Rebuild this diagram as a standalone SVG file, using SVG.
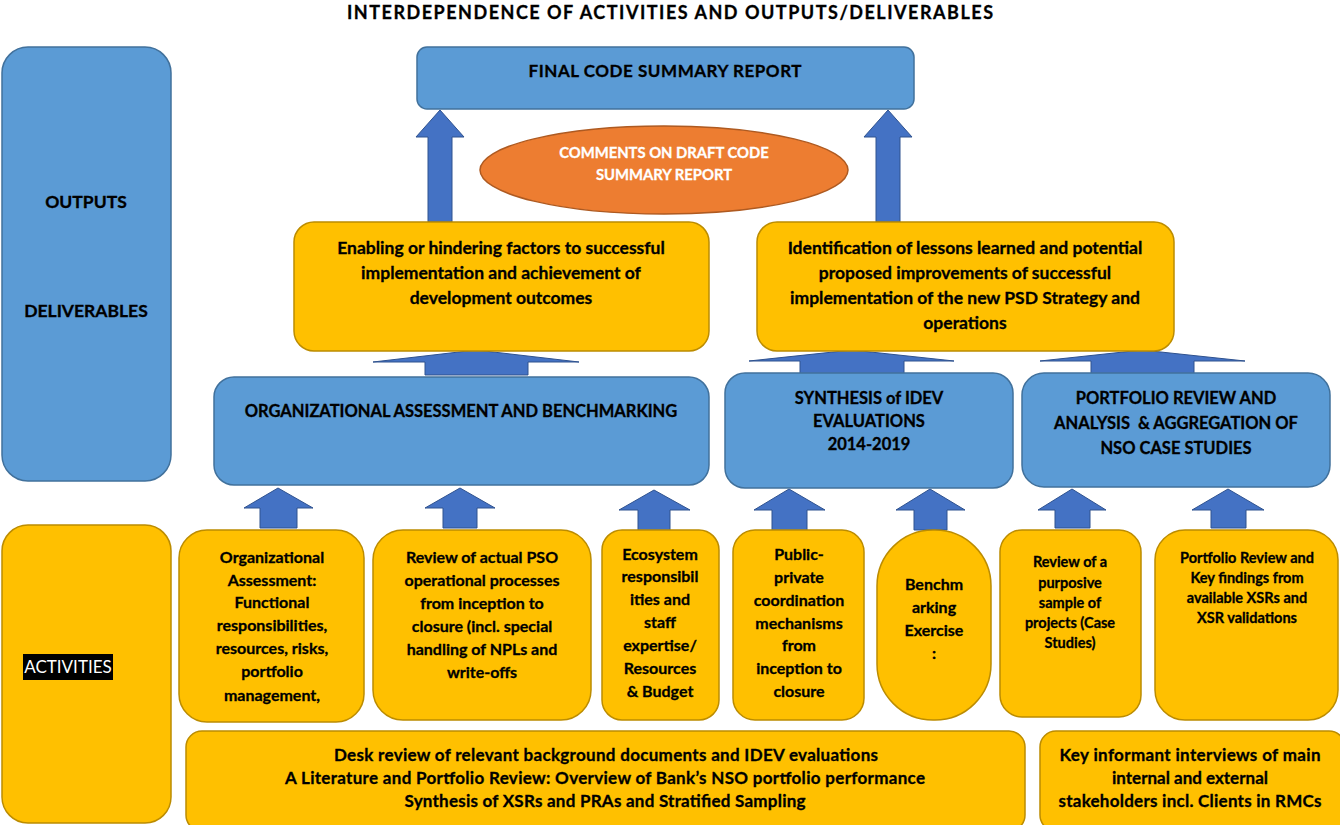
<svg xmlns="http://www.w3.org/2000/svg" width="1340" height="825" viewBox="0 0 1340 825">
  <style>
    text { font-family: "Lato", "Open Sans", "Liberation Sans", sans-serif; font-weight: bold; fill: #000; stroke: #000; stroke-width: 0.3; text-anchor: middle; }
    text.light { fill: #fff; stroke: #fff; }
    .blue { fill: #5B9BD5; stroke: #41719C; stroke-width: 1.5; }
    .yellow { fill: #FFC000; stroke: #BC8C00; stroke-width: 1.5; }
    .orange { fill: #ED7D31; stroke: #AE5A21; stroke-width: 1.5; }
    .arrow { fill: #4472C4; stroke: #2F528F; stroke-width: 1; }
    .hd { font-size: 16.5px; }
    .dl { font-size: 17.5px; }
    .ac { font-size: 16px; }
    .sm { font-size: 14.5px; }
    .bt { font-size: 17px; }
  </style>

  <rect width="1340" height="825" fill="#fff"/>

  <text x="670" y="19" font-size="18" textLength="646" lengthAdjust="spacing">INTERDEPENDENCE OF ACTIVITIES AND OUTPUTS/DELIVERABLES</text>

  <!-- side labels -->
  <g id="outputs-column">
    <rect class="blue" x="2" y="47" width="169" height="434" rx="26"/>
    <text x="86" y="208" font-size="17.5">OUTPUTS</text>
    <text x="86" y="317" font-size="17.5">DELIVERABLES</text>
  </g>
  <g id="activities-column">
    <rect class="yellow" x="2" y="525" width="169" height="298" rx="26"/>
    <rect x="23" y="654" width="90" height="26" fill="#000"/>
    <text class="light" x="68" y="673" font-size="17" style="font-weight:normal;stroke-width:0">ACTIVITIES</text>
  </g>

  <!-- connectors: block arrows pointing upward -->
  <g id="connectors">
    <polygon class="arrow" points="440,110 464,137 452,137 452,222 428,222 428,137 416,137"/>
    <polygon class="arrow" points="888,110 912,137 900,137 900,222 876,222 876,137 864,137"/>
    <polygon class="arrow" points="476,350 579,362 528,362 528,375 425,375 425,362 373,362"/>
    <polygon class="arrow" points="852,350 954,361 904,361 904,374 800,374 800,361 749,361"/>
    <polygon class="arrow" points="1142,350 1245,361 1194,361 1194,374 1091,374 1091,361 1040,361"/>
    <polygon class="arrow" points="278,488 313,508 297,508 297,528 260,528 260,508 244,508"/>
    <polygon class="arrow" points="460,488 495,508 477,508 477,528 443,528 443,508 425,508"/>
    <polygon class="arrow" points="654,490 690,510 670,510 670,531 638,531 638,510 619,510"/>
    <polygon class="arrow" points="789,489 825,510 807,510 807,531 772,531 772,510 754,510"/>
    <polygon class="arrow" points="930,489 965,510 947,510 947,530 914,530 914,510 896,510"/>
    <polygon class="arrow" points="1072,489 1106,510 1090,510 1090,528 1055,528 1055,510 1038,510"/>
    <polygon class="arrow" points="1228,489 1264,510 1246,510 1246,528 1211,528 1211,510 1192,510"/>
  </g>

  <g id="final-report">
    <rect class="blue" x="417" y="47" width="497" height="62" rx="10"/>
    <text x="665" y="77" font-size="17" textLength="273" lengthAdjust="spacing">FINAL CODE SUMMARY REPORT</text>
  </g>

  <g id="comments">
    <ellipse class="orange" cx="664" cy="170" rx="184" ry="44"/>
    <text class="light" x="664" y="158" font-size="14.8">COMMENTS ON DRAFT CODE</text>
    <text class="light" x="664" y="180" font-size="14.8">SUMMARY REPORT</text>
  </g>

  <g id="deliverable-factors">
    <rect class="yellow" x="294" y="222" width="415" height="129" rx="20"/>
    <text class="dl" x="501" y="254">Enabling or hindering factors to successful</text>
    <text class="dl" x="501" y="279">implementation and achievement of</text>
    <text class="dl" x="501" y="304">development outcomes</text>
  </g>

  <g id="deliverable-lessons">
    <rect class="yellow" x="757" y="222" width="417" height="129" rx="20"/>
    <text class="dl" x="965" y="254">Identification of lessons learned and potential</text>
    <text class="dl" x="965" y="279">proposed improvements of successful</text>
    <text class="dl" x="965" y="304">implementation of the new PSD Strategy and</text>
    <text class="dl" x="965" y="329">operations</text>
  </g>

  <g id="org-assessment">
    <rect class="blue" x="214" y="377" width="495" height="108" rx="20"/>
    <text class="hd" x="461" y="417">ORGANIZATIONAL ASSESSMENT AND BENCHMARKING</text>
  </g>

  <g id="idev-synthesis">
    <rect class="blue" x="725" y="373" width="288" height="115" rx="20"/>
    <text class="hd" x="869" y="404">SYNTHESIS of IDEV</text>
    <text class="hd" x="869" y="427">EVALUATIONS</text>
    <text class="hd" x="869" y="450">2014-2019</text>
  </g>

  <g id="portfolio-review">
    <rect class="blue" x="1022" y="373" width="308" height="114" rx="22"/>
    <text class="hd" x="1176" y="404">PORTFOLIO REVIEW AND</text>
    <text class="hd" x="1176" y="429" xml:space="preserve">ANALYSIS  &amp; AGGREGATION OF</text>
    <text class="hd" x="1176" y="454">NSO CASE STUDIES</text>
  </g>

  <g id="act-org">
    <rect class="yellow" x="179" y="530" width="185" height="192" rx="28"/>
    <text class="ac" x="272" y="563">Organizational</text>
    <text class="ac" x="272" y="586">Assessment:</text>
    <text class="ac" x="272" y="608">Functional</text>
    <text class="ac" x="272" y="631">responsibilities,</text>
    <text class="ac" x="272" y="654">resources, risks,</text>
    <text class="ac" x="272" y="677">portfolio</text>
    <text class="ac" x="272" y="701">management,</text>
  </g>

  <g id="act-processes">
    <rect class="yellow" x="373" y="530" width="218" height="190" rx="30"/>
    <text class="ac" x="482" y="563">Review of actual PSO</text>
    <text class="ac" x="482" y="586">operational processes</text>
    <text class="ac" x="482" y="609">from inception to</text>
    <text class="ac" x="482" y="632">closure (incl. special</text>
    <text class="ac" x="482" y="655">handling of NPLs and</text>
    <text class="ac" x="482" y="678">write-offs</text>
  </g>

  <g id="act-ecosystem">
    <rect class="yellow" x="602" y="530" width="117" height="190" rx="20"/>
    <text class="ac" x="660" y="560">Ecosystem</text>
    <text class="ac" x="660" y="582">responsibil</text>
    <text class="ac" x="660" y="605">ities and</text>
    <text class="ac" x="660" y="628">staff</text>
    <text class="ac" x="660" y="651">expertise/</text>
    <text class="ac" x="660" y="674">Resources</text>
    <text class="ac" x="660" y="697">&amp; Budget</text>
  </g>

  <g id="act-coordination">
    <rect class="yellow" x="733" y="530" width="131" height="190" rx="22"/>
    <text class="ac" x="799" y="560">Public-</text>
    <text class="ac" x="799" y="583">private</text>
    <text class="ac" x="799" y="606">coordination</text>
    <text class="ac" x="799" y="629">mechanisms</text>
    <text class="ac" x="799" y="651">from</text>
    <text class="ac" x="799" y="674">inception to</text>
    <text class="ac" x="799" y="697">closure</text>
  </g>

  <g id="act-benchmarking">
    <rect class="yellow" x="877" y="530" width="114" height="190" rx="56"/>
    <text class="ac" x="934" y="590">Benchm</text>
    <text class="ac" x="934" y="613">arking</text>
    <text class="ac" x="934" y="636">Exercise</text>
    <text class="ac" x="934" y="659">:</text>
  </g>

  <g id="act-case-studies">
    <rect class="yellow" x="1000" y="530" width="141" height="187" rx="22"/>
    <text class="sm" x="1070" y="567">Review of a</text>
    <text class="sm" x="1070" y="588">purposive</text>
    <text class="sm" x="1070" y="608">sample of</text>
    <text class="sm" x="1070" y="628">projects (Case</text>
    <text class="sm" x="1070" y="648">Studies)</text>
  </g>

  <g id="act-xsr">
    <rect class="yellow" x="1155" y="530" width="183" height="190" rx="30"/>
    <text class="sm" x="1247" y="563">Portfolio Review and</text>
    <text class="sm" x="1247" y="583">Key findings from</text>
    <text class="sm" x="1247" y="603">available XSRs and</text>
    <text class="sm" x="1247" y="623">XSR validations</text>
  </g>

  <g id="desk-review">
    <rect class="yellow" x="186" y="731" width="839" height="100" rx="16"/>
    <text class="bt" x="606" y="761" textLength="544" lengthAdjust="spacing">Desk review of relevant background documents and IDEV evaluations</text>
    <text class="bt" x="605" y="784" textLength="640" lengthAdjust="spacing">A Literature and Portfolio Review: Overview of Bank’s NSO portfolio performance</text>
    <text class="bt" x="605" y="807" textLength="401" lengthAdjust="spacing">Synthesis of XSRs and PRAs and Stratified Sampling</text>
  </g>

  <g id="interviews">
    <rect class="yellow" x="1040" y="731" width="305" height="100" rx="16"/>
    <text class="bt" x="1190" y="761" textLength="261" lengthAdjust="spacing">Key informant interviews of main</text>
    <text class="bt" x="1190" y="784">internal and external</text>
    <text class="bt" x="1190" y="807" textLength="263" lengthAdjust="spacing">stakeholders incl. Clients in RMCs</text>
  </g>
</svg>
